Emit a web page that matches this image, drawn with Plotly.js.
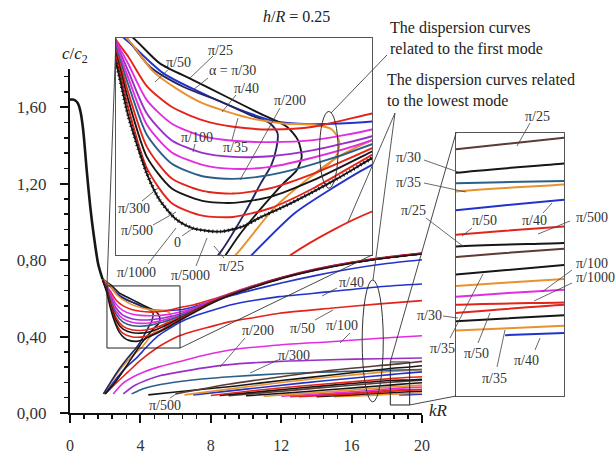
<!DOCTYPE html>
<html><head><meta charset="utf-8">
<script src="https://cdn.plot.ly/plotly-3.0.1.min.js"></script>
<style>html,body{margin:0;padding:0;background:#fff}#chart{width:616px;height:459px}</style>
</head><body><div id="chart"></div>
<script>
// ---------- tick labels ----------
const xTickVals = [0, 4, 8, 12, 16, 20];
const xTickText = ['0', '4', '8', '12', '16', '20'];
const yTickVals = [0, 0.4, 0.8, 1.2, 1.6];
const yTickText = ['0,00', '0,40', '0,80', '1,20', '1,60'];

// ---------- common steep branch (all alpha) ----------
const kr_common = [0, 0.15, 0.3, 0.45, 0.6, 0.75, 0.95, 1.15, 1.35, 1.6, 1.85];
const c_common  = [1.64, 1.64, 1.635, 1.62, 1.575, 1.48, 1.27, 1.08, 0.93, 0.78, 0.70];

// ---------- first mode curves ----------
const kr_f_0 = [1.85, 2.1, 2.3, 2.6, 2.81, 3.08, 3.35, 3.79, 4.16, 4.43, 4.81, 5.24, 5.68, 6.25, 7, 8, 9, 10, 12, 14, 16, 18, 20];
const c_f_0  = [0.695, 0.628, 0.548, 0.462, 0.422, 0.393, 0.38, 0.375, 0.383, 0.396, 0.412, 0.432, 0.454, 0.485, 0.523, 0.572, 0.612, 0.645, 0.703, 0.748, 0.784, 0.811, 0.832];
const kr_f_std = [1.85, 2.1, 2.3, 2.6, 3.0, 3.5, 4.0, 4.6, 5.3, 6.25, 7, 8, 9, 10, 12, 14, 16, 18, 20];
const c_f_pi5000 = [0.697, 0.635, 0.56, 0.47, 0.418, 0.399, 0.397, 0.41, 0.44, 0.49, 0.527, 0.575, 0.614, 0.647, 0.705, 0.75, 0.786, 0.813, 0.834];
const c_f_pi1000 = [0.698, 0.64, 0.572, 0.487, 0.44, 0.421, 0.418, 0.427, 0.452, 0.495, 0.53, 0.577, 0.615, 0.648, 0.706, 0.751, 0.786, 0.813, 0.834];
const c_f_pi500  = [0.699, 0.645, 0.583, 0.502, 0.455, 0.436, 0.432, 0.44, 0.462, 0.50, 0.533, 0.579, 0.616, 0.648, 0.706, 0.751, 0.786, 0.813, 0.834];
const c_f_pi300  = [0.70, 0.65, 0.595, 0.52, 0.477, 0.458, 0.454, 0.46, 0.476, 0.506, 0.537, 0.58, 0.617, 0.649, 0.706, 0.751, 0.786, 0.813, 0.834];
const c_f_pi200  = [0.70, 0.654, 0.605, 0.535, 0.494, 0.475, 0.469, 0.472, 0.486, 0.512, 0.54, 0.582, 0.618, 0.65, 0.707, 0.752, 0.787, 0.814, 0.835];
const c_f_violet = [0.70, 0.657, 0.615, 0.552, 0.512, 0.493, 0.487, 0.488, 0.497, 0.518, 0.543, 0.584, 0.619, 0.651, 0.707, 0.752, 0.787, 0.814, 0.835];
const c_f_pi100  = [0.70, 0.66, 0.626, 0.572, 0.537, 0.518, 0.511, 0.509, 0.512, 0.528, 0.548, 0.586, 0.62, 0.652, 0.708, 0.753, 0.788, 0.815, 0.836];
const c_f_pi50   = [0.70, 0.662, 0.637, 0.593, 0.562, 0.542, 0.532, 0.528, 0.532, 0.552, 0.565, 0.592, 0.623, 0.654, 0.709, 0.754, 0.789, 0.816, 0.837];
const kr_f_blue = [1.85, 2.1, 2.33, 2.87, 3.62, 4.27, 4.7, 5.24, 6.25, 7, 8, 9, 10, 12, 14, 16, 18, 20];
const c_f_blue  = [0.70, 0.675, 0.657, 0.612, 0.577, 0.552, 0.54, 0.536, 0.54, 0.555, 0.585, 0.61, 0.635, 0.68, 0.72, 0.755, 0.782, 0.802];
const kr_f_orange = [1.85, 2.1, 2.35, 2.7, 3.1, 3.51, 4.27, 4.81, 5.3, 5.6, 5.72, 5.68, 5.5, 5.25];
const c_f_orange  = [0.70, 0.68, 0.657, 0.615, 0.588, 0.567, 0.545, 0.537, 0.535, 0.528, 0.51, 0.49, 0.472, 0.457];
const kr_f_pi30 = [1.85, 2.21, 2.65, 3.19, 3.79, 4.27, 4.6, 4.72, 4.7, 4.62, 4.45, 4.2, 3.8, 3.3, 2.8, 2.3, 1.9];
const c_f_pi30  = [0.70, 0.672, 0.622, 0.592, 0.57, 0.55, 0.537, 0.522, 0.50, 0.475, 0.448, 0.405, 0.345, 0.29, 0.23, 0.16, 0.10];
const kr_f_pi25 = [1.85, 2.38, 2.81, 3.35, 3.89, 4.43, 4.87, 5.05, 5.11, 5.03, 4.81, 4.5, 4.1, 3.7, 3.2, 2.6, 2.0];
const c_f_pi25  = [0.70, 0.665, 0.627, 0.602, 0.577, 0.552, 0.532, 0.512, 0.487, 0.467, 0.447, 0.415, 0.37, 0.315, 0.245, 0.165, 0.10];

// ---------- lowest mode curves ----------
const kr_l_orange = [1.9, 2.4, 3.0, 3.5, 4.04, 4.68, 5.25, 5.7, 6.25, 7, 8, 9, 10, 12, 14, 16, 18, 20];
const c_l_orange  = [0.10, 0.17, 0.245, 0.295, 0.34, 0.412, 0.457, 0.487, 0.512, 0.54, 0.578, 0.613, 0.646, 0.704, 0.749, 0.785, 0.812, 0.833];
const kr_l_pi40 = [1.95, 2.5, 3.2, 3.8, 4.3, 5.0, 5.64, 6.25, 7, 8, 9.1, 10.5, 11.9, 14.8, 17.6, 20];
const c_l_pi40  = [0.10, 0.165, 0.24, 0.29, 0.34, 0.403, 0.442, 0.475, 0.505, 0.535, 0.565, 0.59, 0.609, 0.635, 0.661, 0.675];
const kr_l_pi50 = [2.0, 2.6, 3.3, 4.0, 4.93, 5.63, 6.25, 7, 8, 9.1, 10.5, 11.9, 14.8, 17.6, 20];
const c_l_pi50  = [0.10, 0.155, 0.215, 0.275, 0.34, 0.378, 0.405, 0.428, 0.452, 0.478, 0.50, 0.522, 0.548, 0.571, 0.588];
const kr_l_pi100 = [2.46, 3.0, 3.6, 4.2, 5.0, 6.25, 7.5, 9.1, 11.9, 14.8, 17.6, 20];
const c_l_pi100  = [0.10, 0.155, 0.19, 0.215, 0.24, 0.27, 0.30, 0.33, 0.356, 0.373, 0.391, 0.404];
const kr_l_pi200 = [3.03, 3.6, 4.3, 5.1, 6.25, 7.5, 8.9, 11.9, 14.8, 17.6, 20];
const c_l_pi200  = [0.10, 0.14, 0.17, 0.195, 0.215, 0.235, 0.252, 0.27, 0.279, 0.284, 0.288];
const kr_l_pi300 = [3.5, 4.2, 5.0, 6.25, 7.5, 9.1, 11.9, 14.8, 18.2, 19.3, 20];
const c_l_pi300  = [0.10, 0.128, 0.147, 0.165, 0.178, 0.19, 0.205, 0.215, 0.224, 0.226, 0.228];
// lower bundle
const kr_b1 = [6.0, 9, 12, 15, 18.2, 19.3, 20];            const c_b1 = [0.10, 0.15, 0.19, 0.225, 0.253, 0.263, 0.27];
const kr_b2 = [4.45, 6, 9.3, 12, 15, 18.2, 19.3, 20];      const c_b2 = [0.095, 0.11, 0.14, 0.17, 0.2, 0.233, 0.241, 0.247];
const kr_b4 = [6.5, 9, 12, 15, 18.2, 19.3, 20];            const c_b4 = [0.095, 0.125, 0.16, 0.19, 0.217, 0.223, 0.227];
const kr_b5 = [7, 10, 13, 16, 18.2, 19.3, 20];             const c_b5 = [0.095, 0.125, 0.155, 0.182, 0.201, 0.21, 0.215];
const kr_b6 = [8, 10.5, 13, 16, 18.2, 19.3, 20];           const c_b6 = [0.092, 0.118, 0.14, 0.163, 0.18, 0.187, 0.19];
const kr_b7 = [8.5, 11, 13.5, 16, 18.2, 19.3, 20];         const c_b7 = [0.092, 0.113, 0.135, 0.154, 0.17, 0.173, 0.176];
const kr_b8 = [9, 11.5, 14, 16, 18.2, 19.3, 20];           const c_b8 = [0.09, 0.11, 0.13, 0.145, 0.161, 0.168, 0.172];
const kr_b9 = [10, 12.5, 14.5, 16.5, 18.2, 19.3, 20];      const c_b9 = [0.09, 0.106, 0.12, 0.134, 0.146, 0.154, 0.158];
const kr_b10 = [11, 13, 15, 17, 18.2, 19.3, 20];           const c_b10 = [0.088, 0.1, 0.113, 0.127, 0.136, 0.142, 0.146];
const kr_b11 = [12, 14, 15.5, 17, 18.2, 19.3, 20];         const c_b11 = [0.088, 0.099, 0.108, 0.118, 0.127, 0.133, 0.136];
const kr_b12 = [12.5, 14.5, 16, 17.5, 18.2, 19.3, 20];     const c_b12 = [0.085, 0.096, 0.104, 0.114, 0.12, 0.122, 0.124];
const kr_b13 = [13, 15, 16, 17.5, 18.2, 19.3, 20];         const c_b13 = [0.085, 0.094, 0.1, 0.108, 0.113, 0.12, 0.122];
const kr_b14 = [14, 16, 18.2, 19.3, 20];                   const c_b14 = [0.085, 0.095, 0.106, 0.111, 0.114];
const kr_b15 = [15, 17, 18.2, 19.3, 20];                   const c_b15 = [0.085, 0.092, 0.098, 0.102, 0.104];
const kr_b16 = [18.7, 19.3, 20];                           const c_b16 = [0.094, 0.096, 0.098];

// ---------- zoom windows ----------
const zoom1_kr = [2.10, 6.25], zoom1_c = [0.34, 0.665];
const zoom2_kr = [18.2, 19.3], zoom2_c = [0.042, 0.267];

// ---------- styling ----------
const BLACK='#161616', RED='#e3241b', BLUE='#2233cc', MAG='#e22ee0', ORANGE='#e8922e',
      VIOLET='#9a2fc8', STEEL='#2a5f8a', NAVY='#26265e', BROWN='#5b3b32';
const SERIF = 'Liberation Serif, Times New Roman, serif';

const curves = [
  {kr:kr_b16,c:c_b16,col:BLUE},{kr:kr_b15,c:c_b15,col:ORANGE},{kr:kr_b14,c:c_b14,col:BLACK},
  {kr:kr_b13,c:c_b13,col:RED},{kr:kr_b12,c:c_b12,col:RED},{kr:kr_b11,c:c_b11,col:MAG},
  {kr:kr_b10,c:c_b10,col:ORANGE},{kr:kr_b9,c:c_b9,col:BLACK},{kr:kr_b8,c:c_b8,col:BROWN},
  {kr:kr_b7,c:c_b7,col:BLACK},{kr:kr_b6,c:c_b6,col:RED},{kr:kr_b5,c:c_b5,col:BLUE},
  {kr:kr_b4,c:c_b4,col:ORANGE},{kr:kr_l_pi300,c:c_l_pi300,col:STEEL},{kr:kr_b2,c:c_b2,col:BLACK},
  {kr:kr_b1,c:c_b1,col:BROWN},
  {kr:kr_l_pi200,c:c_l_pi200,col:VIOLET},{kr:kr_l_pi100,c:c_l_pi100,col:MAG},
  {kr:kr_l_pi50,c:c_l_pi50,col:RED},{kr:kr_l_pi40,c:c_l_pi40,col:BLUE},
  {kr:kr_f_blue,c:c_f_blue,col:BLUE},
  {kr:kr_l_orange,c:c_l_orange,col:ORANGE},
  {kr:kr_f_pi25,c:c_f_pi25,col:BLACK},{kr:kr_f_pi30,c:c_f_pi30,col:NAVY},
  {kr:kr_f_orange,c:c_f_orange,col:ORANGE},
  {kr:kr_f_std,c:c_f_pi50,col:RED},{kr:kr_f_std,c:c_f_pi100,col:MAG},
  {kr:kr_f_std,c:c_f_violet,col:VIOLET},{kr:kr_f_std,c:c_f_pi200,col:MAG},
  {kr:kr_f_std,c:c_f_pi300,col:STEEL},{kr:kr_f_std,c:c_f_pi500,col:RED},
  {kr:kr_f_std,c:c_f_pi1000,col:BLACK},{kr:kr_f_std,c:c_f_pi5000,col:RED},
  {kr:kr_f_0,c:c_f_0,col:BLACK,zero:true},
  {kr:kr_common,c:c_common,col:BLACK,w:2.6}
];

const traces = [];
[['x','y',1.6],['x2','y2',1.9],['x3','y3',2.0]].forEach(([xa,ya,w])=>{
  curves.forEach(cv=>{
    traces.push({type:'scatter',mode:'lines',x:cv.kr,y:cv.c,xaxis:xa,yaxis:ya,hoverinfo:'skip',
      line:{color:cv.col,width:cv.w||w,shape:'spline',smoothing:0.7}});
    if (cv.zero && xa==='x2') {
      traces.push({type:'scatter',mode:'lines',x:cv.kr,y:cv.c,xaxis:xa,yaxis:ya,hoverinfo:'skip',
        line:{color:BLACK,width:3.6,dash:'1px,3px',shape:'spline',smoothing:0.7}});
    }
  });
});

// ---------- pixel helpers for decorations ----------
const W=616,H=459;
const PX = x=>x/W, PY = y=>(H-y)/H;
const mainDom = {x0:70,x1:422,y0:413,y1:69,kr:[0,20],c:[0,1.8]};
const toPx = (kr,c)=>[mainDom.x0+(kr-mainDom.kr[0])/(mainDom.kr[1]-mainDom.kr[0])*(mainDom.x1-mainDom.x0),
                      mainDom.y0-(c-mainDom.c[0])/(mainDom.c[1]-mainDom.c[0])*(mainDom.y0-mainDom.y1)];
const inset1 = {x0:116,x1:372,y0:255,y1:38};
const inset2 = {x0:456,x1:564,y0:396,y1:133};

const shapes = [];
const pline = (x0,y0,x1,y1,col,w)=>shapes.push({type:'line',xref:'paper',yref:'paper',x0:PX(x0),y0:PY(y0),x1:PX(x1),y1:PY(y1),line:{color:col||'#444',width:w||0.9}});
// zoom rectangles on main
shapes.push({type:'rect',xref:'x',yref:'y',x0:zoom1_kr[0],x1:zoom1_kr[1],y0:zoom1_c[0],y1:zoom1_c[1],line:{color:'#222',width:1}});
shapes.push({type:'rect',xref:'x',yref:'y',x0:zoom2_kr[0],x1:zoom2_kr[1],y0:zoom2_c[0],y1:zoom2_c[1],line:{color:'#222',width:1}});
// connectors
let a=toPx(zoom1_kr[0],zoom1_c[1]); pline(a[0],a[1],inset1.x0,inset1.y1,'#333',0.9);
a=toPx(zoom1_kr[1],zoom1_c[0]); pline(a[0],a[1],inset1.x1,inset1.y0,'#333',0.9);
a=toPx(zoom2_kr[0],zoom2_c[1]); pline(a[0],a[1],inset2.x0,inset2.y1,'#333',0.9);
a=toPx(zoom2_kr[1],zoom2_c[0]); pline(a[0],a[1],inset2.x0,inset2.y0,'#333',0.9);
// ellipses
shapes.push({type:'circle',xref:'x',yref:'y',x0:16.6,x1:17.8,y0:0.058,y1:0.696,line:{color:'#333',width:1}});
shapes.push({type:'circle',xref:'x2',yref:'y2',x0:5.40,x1:5.70,y0:0.44,y1:0.555,line:{color:'#333',width:1}});
// text leaders
pline(387,55,331,113,'#444',0.9);
pline(395,113,348,222,'#444',0.9);
pline(395,113,373,280,'#444',0.9);

// ---------- labels ----------
const labels = [
  // inset 1
  ['π/25',220,50,'c'],['π/50',178,62,'c'],['α = π/30',233,71,'c'],['π/40',246,88,'c'],['π/200',290,100,'c'],
  ['π/100',197,137,'c'],['π/35',235,147,'c'],['π/300',134,208,'c'],['π/500',137,230,'c'],['0',177,242,'c'],
  // main
  ['π/1000',136,272,'c'],['π/5000',190,275,'c'],['π/25',231,267,'c'],['π/40',351,282,'c'],['π/50',302,328,'c'],
  ['π/100',342,325,'c'],['π/200',258,330,'c'],['π/300',294,355,'c'],['π/500',165,405,'c'],
  // right inset
  ['π/25',537,117,'c'],['π/30',408,157,'c'],['π/35',408,182,'c'],['π/25',413,210,'c'],['π/50',484,220,'c'],
  ['π/40',534,220,'c'],['π/500',574,217,'l'],['π/100',574,263,'l'],['π/1000',574,277,'l'],['π/30',429,315,'c'],
  ['π/35',442,348,'c'],['π/50',476,353,'c'],['π/35',494,378,'c'],['π/40',526,360,'c']
];
const leaders = [
  [213,56,190,78],[170,68,155,82],[208,78,193,90],[236,95,222,112],[280,108,240,180],[195,144,193,152],
  [232,140,238,118],[142,201,158,188],[153,225,176,212],[182,236,192,229],
  [148,264,176,228],[196,266,207,238],[224,258,214,246],[337,288,322,296],[315,320,333,310],[350,333,340,343],
  [245,338,220,367],[278,360,250,373],[170,398,176,394],
  [530,123,517,146],[424,160,458,172],[424,183,466,192],[426,218,464,247],[472,228,462,236],[543,213,552,203],
  [570,221,538,234],[572,270,542,292],[572,283,534,301],[443,316,458,318],[450,338,483,274],[478,343,490,313],
  [497,367,505,330],[535,350,540,338]
];
leaders.forEach(l=>pline(l[0],l[1],l[2],l[3],'#444',0.8));

const annotations = labels.map(([t,x,y,al])=>({text:t,xref:'paper',yref:'paper',x:PX(x),y:PY(y),
  xanchor:al==='l'?'left':'center',yanchor:'middle',showarrow:false,font:{family:SERIF,size:14,color:'#333'}}));
annotations.push(
  {text:'<i>h</i>/<i>R</i> = 0.25',xref:'paper',yref:'paper',x:PX(296),y:PY(16),xanchor:'center',yanchor:'middle',showarrow:false,font:{family:SERIF,size:16,color:'#222'}},
  {text:'<i>c</i>/<i>c</i><sub>2</sub>',xref:'paper',yref:'paper',x:PX(75),y:PY(55),xanchor:'center',yanchor:'middle',showarrow:false,font:{family:SERIF,size:17,color:'#222'}},
  {text:'<i>kR</i>',xref:'paper',yref:'paper',x:PX(438),y:PY(410),xanchor:'center',yanchor:'middle',showarrow:false,font:{family:SERIF,size:17,color:'#222'}},
  {text:'The dispersion curves<br>related to the first mode',xref:'paper',yref:'paper',x:PX(388),y:PY(38),xanchor:'left',yanchor:'middle',align:'left',showarrow:false,font:{family:SERIF,size:16,color:'#222'}},
  {text:'The dispersion curves related<br>to the lowest mode',xref:'paper',yref:'paper',x:PX(385),y:PY(90),xanchor:'left',yanchor:'middle',align:'left',showarrow:false,font:{family:SERIF,size:16,color:'#222'}}
);

const insetAxis = (dom, rng, anchor)=>({domain:dom,range:rng,anchor:anchor,showticklabels:false,ticks:'',
  showline:true,mirror:true,linecolor:'#555',linewidth:1,showgrid:false,zeroline:false,fixedrange:true});

const layout = {
  width:W,height:H,margin:{l:0,r:0,t:0,b:0},paper_bgcolor:'#fff',plot_bgcolor:'#fff',showlegend:false,
  font:{family:SERIF,color:'#222'},
  xaxis:{domain:[PX(70),PX(422)],range:[0,20],anchor:'y',tickvals:xTickVals,ticktext:xTickText,ticks:'outside',
    ticklen:8,tickwidth:2,tickcolor:'#111',showline:true,linecolor:'#111',linewidth:2,showgrid:false,zeroline:false,
    ticklabelstandoff:9,tickfont:{family:SERIF,size:16,color:'#333'},
    minor:{dtick:0.8,ticks:'outside',ticklen:4,tickwidth:1.5,tickcolor:'#111',showgrid:false}},
  yaxis:{domain:[PY(413),PY(69)],range:[0,1.8],anchor:'x',tickvals:yTickVals,ticktext:yTickText,ticks:'outside',
    ticklen:8,tickwidth:2,tickcolor:'#111',showline:true,linecolor:'#111',linewidth:2,showgrid:false,zeroline:false,
    ticklabelstandoff:10,tickfont:{family:SERIF,size:17,color:'#333'},
    minor:{dtick:0.08,ticks:'outside',ticklen:4,tickwidth:1.5,tickcolor:'#111',showgrid:false}},
  xaxis2:insetAxis([PX(inset1.x0),PX(inset1.x1)],zoom1_kr,'y2'),
  yaxis2:insetAxis([PY(inset1.y0),PY(inset1.y1)],zoom1_c,'x2'),
  xaxis3:insetAxis([PX(inset2.x0),PX(inset2.x1)],zoom2_kr,'y3'),
  yaxis3:insetAxis([PY(inset2.y0),PY(inset2.y1)],zoom2_c,'x3'),
  shapes:shapes,annotations:annotations
};
Plotly.newPlot('chart',traces,layout,{staticPlot:true,displayModeBar:false});
</script></body></html>
